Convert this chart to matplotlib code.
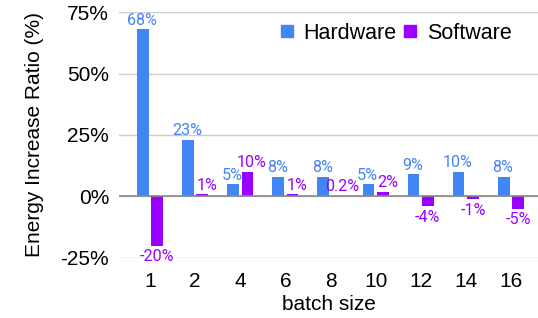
import numpy as np
import matplotlib.pyplot as plt
from matplotlib.lines import Line2D

batch = ['1', '2', '4', '6', '8', '10', '12', '14', '16']
hardware = [68, 23, 5, 8, 8, 5, 9, 10, 8]
software = [-20, 1, 10, 1, 0.2, 2, -4, -1, -5]
hw_labels = ['68%', '23%', '5%', '8%', '8%', '5%', '9%', '10%', '8%']
sw_labels = ['-20%', '1%', '10%', '1%', '0.2%', '2%', '-4%', '-1%', '-5%']

c_hw = '#4285F4'
c_sw = '#9900FF'

fig = plt.figure(figsize=(5.38, 3.18), dpi=100)
ax = fig.add_axes([0.221, 0.189, 0.779, 0.773])

x = np.arange(len(batch))
off = 0.16
w = 0.26
ax.bar(x - off, hardware, width=w, color=c_hw, zorder=3)
ax.bar(x + off, software, width=w, color=c_sw, zorder=3)

for i in range(len(batch)):
    ax.text(x[i] - off - 0.02, hardware[i] + 0.6, hw_labels[i], ha='center', va='bottom',
            color=c_hw, fontsize=11.6, family='Roboto')
    if software[i] >= 0:
        ax.text(x[i] + off + 0.1, software[i] + 0.6, sw_labels[i], ha='center', va='bottom',
                color=c_sw, fontsize=11.6, family='Roboto')
    else:
        ax.text(x[i] + off, software[i] - 1.5, sw_labels[i], ha='center', va='top',
                color=c_sw, fontsize=11.6, family='Roboto')

ax.set_ylim(-25, 75)
ax.set_xlim(-0.69, 8.6)
ax.set_yticks([-25, 0, 25, 50, 75])
ax.set_yticklabels(['-25%', '0%', '25%', '50%', '75%'], fontsize=15, family='Liberation Sans')
ax.set_xticks(x)
ax.set_xticklabels(batch, fontsize=15, family='Liberation Sans')
ax.tick_params(length=0)
ax.tick_params(axis='x', pad=10)
ax.tick_params(axis='y', pad=7)
ax.grid(axis='y', color='#cccccc', linewidth=1, zorder=0)
ax.axhline(0, color='#888888', linewidth=1.2, zorder=4)
for s in ax.spines.values():
    s.set_visible(False)

ax.set_ylabel('Energy Increase Ratio (%)', fontsize=15, family='Liberation Sans', labelpad=12)
ax.set_xlabel('batch size', fontsize=15, family='Liberation Sans', labelpad=3)

handles = [Line2D([], [], marker='s', linestyle='none', markersize=8, color=c_hw),
           Line2D([], [], marker='s', linestyle='none', markersize=8, color=c_sw)]
ax.legend(handles, ['Hardware', 'Software'], loc='upper left', bbox_to_anchor=(0.34, 1.035),
          ncol=2, frameon=False, prop={'family': 'Liberation Sans', 'size': 15.5},
          handlelength=0.6, handletextpad=0.45, columnspacing=0.35)

fig.savefig('out.png', dpi=100)
